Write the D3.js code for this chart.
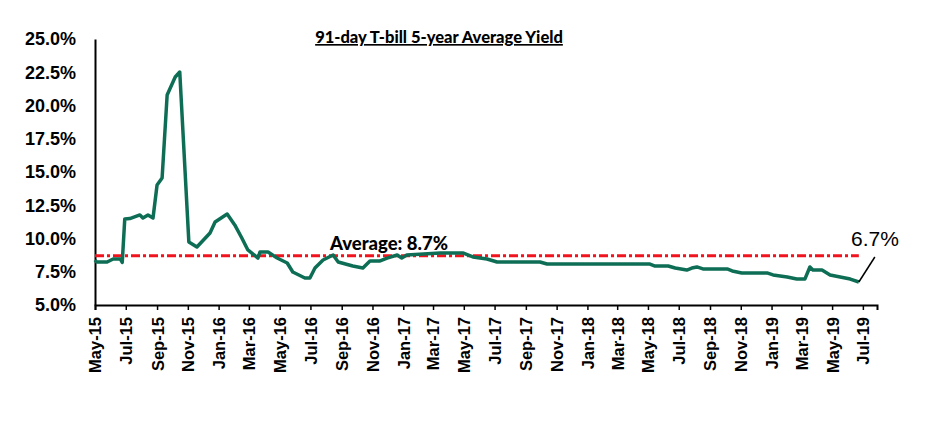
<!DOCTYPE html>
<html lang="en">
<head>
<meta charset="UTF-8">
<title>91-day T-bill 5-year Average Yield</title>
<script src="https://d3js.org/d3.v7.min.js"></script>
<style>
    body { margin: 0; background: #ffffff; }
    svg { display: block; }
    .ytick text { font-family: "Liberation Sans", Arial, sans-serif; font-weight: bold; font-size: 18px; fill: #000; }
    .xtick text { font-family: "Liberation Sans", Arial, sans-serif; font-weight: bold; font-size: 16.5px; fill: #000; }
</style>
</head>
<body>
<svg width="932" height="422"></svg>
<script>
    // fechas y rendimientos (%)
    const fechas = [
        "2015-05-01", "2015-05-04", "2015-05-25", "2015-06-06", "2015-06-20", "2015-06-24",
        "2015-06-29", "2015-07-09", "2015-07-29", "2015-08-04", "2015-08-14", "2015-08-24",
        "2015-09-01", "2015-09-11", "2015-09-21", "2015-10-07", "2015-10-16", "2015-11-03",
        "2015-11-19", "2015-12-15", "2015-12-25", "2016-01-18", "2016-02-02", "2016-02-16",
        "2016-02-28", "2016-03-19", "2016-03-23", "2016-04-08", "2016-04-26", "2016-05-16",
        "2016-05-27", "2016-06-20", "2016-06-30", "2016-07-10", "2016-07-26", "2016-08-15",
        "2016-08-25", "2016-09-23", "2016-10-13", "2016-10-27", "2016-11-16", "2016-11-30",
        "2016-12-20", "2016-12-29", "2017-01-08", "2017-03-15", "2017-04-29", "2017-05-19",
        "2017-06-16", "2017-07-06", "2017-09-29", "2017-10-13", "2018-05-05", "2018-05-15",
        "2018-06-10", "2018-06-24", "2018-07-17", "2018-07-27", "2018-08-06", "2018-08-18",
        "2018-10-05", "2018-10-15", "2018-11-03", "2018-12-23", "2019-01-04", "2019-02-01",
        "2019-02-20", "2019-03-08", "2019-03-18", "2019-03-24", "2019-04-11", "2019-04-27",
        "2019-05-17", "2019-06-06", "2019-06-23"
    ];
    const rendimientos = [
        8.38, 8.23, 8.23, 8.46, 8.46, 8.2,
        11.47, 11.5, 11.77, 11.54, 11.77, 11.54,
        14.02, 14.55, 20.79, 22.14, 22.52, 9.74,
        9.36, 10.41, 11.24, 11.84, 11.02, 10.04,
        9.14, 8.53, 8.98, 8.98, 8.53, 8.16,
        7.48, 7.03, 7.03, 7.78, 8.38, 8.76,
        8.23, 7.93, 7.78, 8.31, 8.31, 8.53,
        8.76, 8.53, 8.76, 8.91, 8.91, 8.61,
        8.46, 8.23, 8.23, 8.08, 8.08, 7.93,
        7.93, 7.78, 7.63, 7.78, 7.86, 7.71,
        7.71, 7.56, 7.41, 7.41, 7.26, 7.11,
        6.95, 6.95, 7.86, 7.63, 7.63, 7.26,
        7.11, 6.95, 6.73
    ];
    const promedio = 8.7;
    const ticksY = [5, 7.5, 10, 12.5, 15, 17.5, 20, 22.5, 25];

    const parse = d3.timeParse("%Y-%m-%d");
    const datos = fechas.map((f, i) => ({ fecha: parse(f), valor: rendimientos[i] }));

    const svg = d3.select("svg");
    const x = d3.scaleTime()
        .domain([parse("2015-05-01"), parse("2019-07-29")])
        .range([95, 877]);
    const y = d3.scaleLinear().domain([5, 25]).range([305, 39]);

    // eje Y
    const ejeY = svg.append("g")
        .attr("class", "ytick")
        .attr("transform", "translate(95,0)")
        .call(d3.axisLeft(y).tickValues(ticksY).tickSize(0).tickPadding(19)
            .tickFormat(d => d.toFixed(1) + "%"));
    ejeY.select(".domain").attr("stroke", "#000").attr("stroke-width", 2);

    // eje X
    const ejeX = svg.append("g")
        .attr("class", "xtick")
        .attr("transform", "translate(0,305)")
        .call(d3.axisBottom(x).ticks(d3.timeMonth.every(2)).tickSize(5)
            .tickFormat(d3.timeFormat("%b-%y")));
    ejeX.select(".domain").attr("stroke", "#000").attr("stroke-width", 2);
    ejeX.selectAll(".tick line").attr("stroke", "#000").attr("stroke-width", 1.5);
    ejeX.selectAll(".tick text")
        .attr("transform", "rotate(-90)")
        .attr("text-anchor", "end")
        .attr("x", -12)
        .attr("y", 0)
        .attr("dy", "0.36em");

    // linea del promedio
    svg.append("line")
        .attr("x1", x(datos[0].fecha))
        .attr("x2", x(datos[datos.length - 1].fecha))
        .attr("y1", y(promedio))
        .attr("y2", y(promedio))
        .attr("stroke", "#f0141e")
        .attr("stroke-width", 3)
        .attr("stroke-dasharray", "9,3,3,3");

    // serie
    svg.append("path")
        .datum(datos)
        .attr("fill", "none")
        .attr("stroke", "#0e6e55")
        .attr("stroke-width", 3.5)
        .attr("stroke-linejoin", "round")
        .attr("d", d3.line().x(d => x(d.fecha)).y(d => y(d.valor)));

    // titulo
    svg.append("text")
        .attr("x", 439)
        .attr("y", 43)
        .attr("text-anchor", "middle")
        .style("font-family", "Lato, 'Open Sans', sans-serif")
        .style("font-weight", "900")
        .style("font-size", "16.5px")
        .style("text-decoration", "underline")
        .text("91-day T-bill 5-year Average  Yield");

    svg.append("text")
        .attr("x", 330)
        .attr("y", y(promedio) - 6)
        .style("font-family", "Lato, 'Open Sans', sans-serif")
        .style("font-weight", "900")
        .style("font-size", "18.5px")
        .text("Average: " + promedio.toFixed(1) + "%");

    // etiqueta del ultimo dato
    const ultimo = datos[datos.length - 1];
    svg.append("line")
        .attr("x1", x(ultimo.fecha))
        .attr("y1", y(ultimo.valor))
        .attr("x2", x(ultimo.fecha) + 16)
        .attr("y2", y(ultimo.valor) - 25)
        .attr("stroke", "#000")
        .attr("stroke-width", 1.5);

    svg.append("text")
        .attr("x", 851)
        .attr("y", 246)
        .style("font-family", "'Liberation Sans', Arial, sans-serif")
        .style("font-size", "21px")
        .text(ultimo.valor.toFixed(1) + "%");
</script>
</body>
</html>
